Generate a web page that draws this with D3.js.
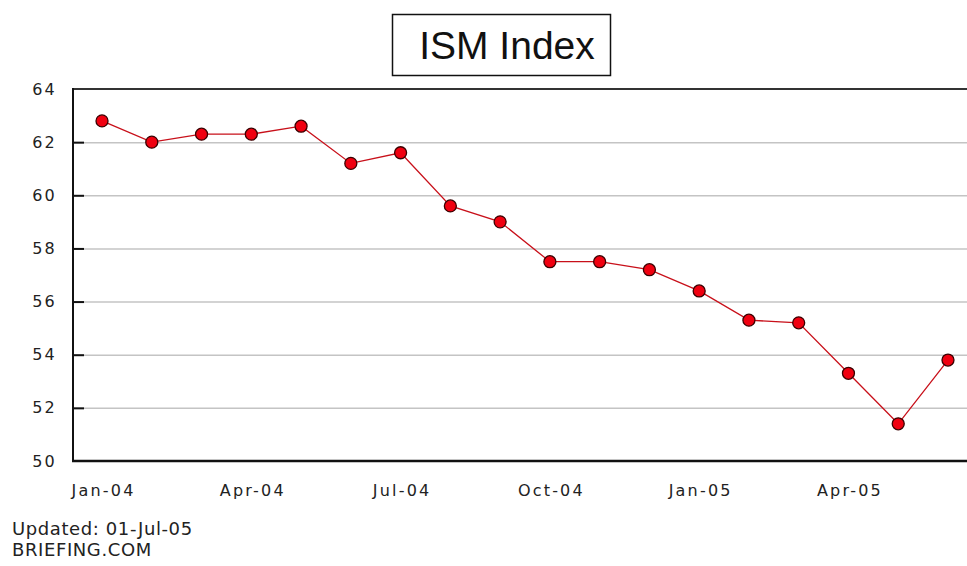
<!doctype html>
<html lang="en">
<head>
    <meta charset="utf-8">
    <title>ISM Index</title>
    <script src="https://cdnjs.cloudflare.com/ajax/libs/d3/7.8.5/d3.min.js"></script>
    <style>
        body { margin: 0; background: #fff; }
        svg { display: block; }
        .tick-lbl { font-family: 'DejaVu Sans', sans-serif; font-size: 16px; fill: #222; letter-spacing: 2.2px; }
        .foot { font-family: 'DejaVu Sans', sans-serif; font-size: 18px; fill: #222; letter-spacing: 0.6px; }
    </style>
</head>
<body>
<svg id="chart" width="967" height="566"></svg>
<script>
    // monthly ISM readings, Jan-04 .. Jun-05
    const months = ["Jan-04", "Feb-04", "Mar-04", "Apr-04", "May-04", "Jun-04",
        "Jul-04", "Aug-04", "Sep-04", "Oct-04", "Nov-04", "Dec-04",
        "Jan-05", "Feb-05", "Mar-05", "Apr-05", "May-05", "Jun-05"];
    const ismValues = [62.8, 62.0, 62.3, 62.3, 62.6, 61.2,
        61.6, 59.6, 59.0, 57.5, 57.5, 57.2,
        56.4, 55.3, 55.2, 53.3, 51.4, 53.8];
    const xTickLabels = ["Jan-04", "Apr-04", "Jul-04", "Oct-04", "Jan-05", "Apr-05"];
    const yTicks = [50, 52, 54, 56, 58, 60, 62, 64];

    const svg = d3.select("#chart");
    const plotL = 73, plotR = 977, plotT = 89, plotB = 461;

    const x = d3.scalePoint().domain(months).range([plotL, plotR]).padding(0.583);
    const y = d3.scaleLinear().domain([50, 64]).range([plotB, plotT]);

    // title box
    const title = svg.append("g");
    title.append("rect")
        .attr("x", 392.5).attr("y", 14.5).attr("width", 218).attr("height", 61)
        .attr("fill", "#fff").attr("stroke", "#111").attr("stroke-width", 1.5);
    title.append("text")
        .attr("x", 507).attr("y", 59)
        .attr("text-anchor", "middle")
        .style("font-family", "'Liberation Sans', Arial, sans-serif")
        .style("font-size", "39px")
        .attr("fill", "#111")
        .text("ISM Index");

    // gridlines
    svg.append("g").selectAll("line")
        .data(yTicks.filter(d => d > 50 && d < 64))
        .join("line")
        .attr("x1", plotL).attr("x2", 967)
        .attr("y1", d => y(d) + 0.5).attr("y2", d => y(d) + 0.5)
        .attr("stroke", "#c4c4c4").attr("stroke-width", 1.5);

    // top border
    svg.append("line")
        .attr("x1", plotL).attr("x2", 967).attr("y1", plotT).attr("y2", plotT)
        .attr("stroke", "#333").attr("stroke-width", 2);

    // y axis with inward ticks
    const yAxis = d3.axisLeft(y).tickValues(yTicks).tickSize(-11).tickPadding(17);
    const yg = svg.append("g").attr("transform", `translate(${plotL},0)`).call(yAxis);
    yg.select(".domain").remove();
    yg.selectAll(".tick line").attr("stroke", "#111").attr("stroke-width", 2)
        .filter(d => d === 50 || d === 64).remove();
    yg.selectAll(".tick text").attr("class", "tick-lbl").attr("font-family", null).attr("font-size", null)
        .attr("x", -16);
    svg.append("line")
        .attr("x1", plotL).attr("x2", plotL).attr("y1", plotT - 1).attr("y2", plotB + 1)
        .attr("stroke", "#111").attr("stroke-width", 2);

    // x axis
    const xAxis = d3.axisBottom(x).tickValues(xTickLabels).tickSize(0).tickPadding(24);
    const xg = svg.append("g").attr("transform", `translate(0,${plotB})`).call(xAxis);
    xg.select(".domain").remove();
    xg.selectAll(".tick text").attr("class", "tick-lbl").attr("font-family", null).attr("font-size", null)
        .attr("dx", 1);
    svg.append("line")
        .attr("x1", plotL - 1).attr("x2", 967).attr("y1", plotB).attr("y2", plotB)
        .attr("stroke", "#111").attr("stroke-width", 2.5);

    // series
    const line = d3.line().x((d, i) => x(months[i])).y(d => y(d));
    svg.append("path")
        .datum(ismValues)
        .attr("d", line)
        .attr("fill", "none")
        .attr("stroke", "#c8101a")
        .attr("stroke-width", 1.3);

    svg.append("g").selectAll("circle")
        .data(ismValues)
        .join("circle")
        .attr("cx", (d, i) => x(months[i]))
        .attr("cy", d => y(d))
        .attr("r", 6)
        .attr("fill", "#f00010")
        .attr("stroke", "#3a0000")
        .attr("stroke-width", 1.3);

    // footer
    svg.append("text").attr("class", "foot").attr("x", 12).attr("y", 535).text("Updated: 01-Jul-05");
    svg.append("text").attr("class", "foot").attr("x", 12).attr("y", 556).text("BRIEFING.COM");
</script>
</body>
</html>
